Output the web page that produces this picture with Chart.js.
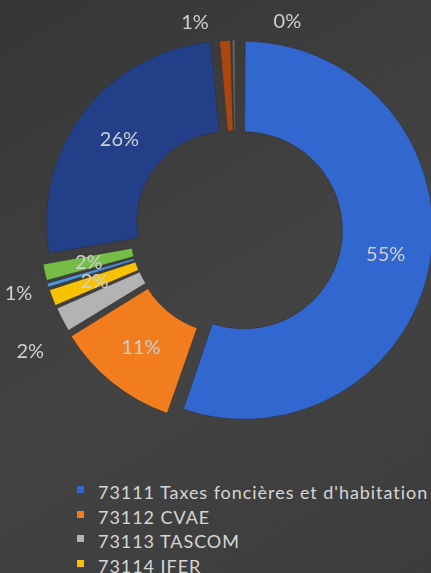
<!DOCTYPE html>
<html lang="fr">
<head>
<meta charset="UTF-8">
<title>Impôts et taxes</title>
<script src="https://cdn.jsdelivr.net/npm/chart.js"></script>
<style>
  html, body { margin: 0; padding: 0; }
  body {
    width: 431px; height: 573px; overflow: hidden; position: relative;
    background: linear-gradient(150deg, #363636 0%, #434343 55%, #3c3c3c 100%);
    font-family: Lato, "Open Sans", sans-serif;
  }
  #wrap { position: absolute; left: 0; top: 0; width: 431px; height: 470px; }
  #legend { position: absolute; left: 77px; top: 480px; margin: 0; padding: 0; list-style: none; }
  #legend li { height: 24.5px; line-height: 24.5px; font-size: 18px; letter-spacing: 0.95px; color: #d6d6d6; white-space: nowrap; }
  #legend .box { display: inline-block; width: 7px; height: 7px; margin-right: 14px; position: relative; top: -6px; }
</style>
</head>
<body>
<div id="wrap"><canvas id="donut" width="431" height="470"></canvas></div>
<ul id="legend"></ul>

<script>
// categories (legend order)
const categories = [
  "73111 Taxes foncières et d'habitation",
  "73112 CVAE",
  "73113 TASCOM",
  "73114 IFER",
  "7318 Autres impôts locaux",
  "73221 FNGIR",
  "7321 Attribution de compensation",
  "7322 Dotation de solidarité",
  "7388 Autres taxes diverses"
];
// share of the total, in %
const shares = [55.3, 10.9, 2.3, 1.6, 0.55, 1.6, 26.3, 1.05, 0.4];
const colors = ['#3267cf', '#f27d1f', '#b3b3b3', '#f7c200', '#4a95dc', '#76bd48', '#223f88', '#a9470f', '#5f5f5f'];
// explosion of each slice (Chart.js offset, drawn at 1/4)
const sliceOffsets = [32, 48, 32, 32, 32, 32, 44, 16, 16];

// legend
const legend = document.getElementById('legend');
categories.forEach((name, i) => {
  const li = document.createElement('li');
  const box = document.createElement('span');
  box.className = 'box';
  box.style.background = colors[i];
  li.appendChild(box);
  li.appendChild(document.createTextNode(name));
  legend.appendChild(li);
});

// percentage labels
const sliceLabels = {
  id: 'sliceLabels',
  afterDatasetsDraw(chart, args, opts) {
    const ctx = chart.ctx;
    const meta = chart.getDatasetMeta(0);
    const total = shares.reduce((a, b) => a + b, 0);
    ctx.save();
    ctx.font = opts.font;
    ctx.fillStyle = opts.color;
    ctx.textAlign = 'center';
    ctx.textBaseline = 'middle';
    meta.data.forEach((arc, i) => {
      const p = arc.getProps(['x', 'y', 'startAngle', 'endAngle', 'innerRadius', 'outerRadius', 'circumference'], true);
      const mid = (p.startAngle + p.endAngle) / 2;
      const shift = (arc.options.offset || 0) / 4;
      let r, dx = 0, dy = 0;
      if (opts.outside[i]) {
        r = opts.outside[i];
        if (opts.nudge[i]) { dx = opts.nudge[i][0]; dy = opts.nudge[i][1]; }
      } else {
        const fix = 1 - Math.sin(Math.min(Math.PI, p.circumference));
        r = shift + shift * fix + (p.innerRadius + p.outerRadius) / 2;
      }
      const x = p.x + Math.cos(mid) * r + dx;
      const y = p.y + Math.sin(mid) * r + dy;
      ctx.fillText(Math.round(shares[i] / total * 100) + '%', x, y);
    });
    ctx.restore();
  }
};

new Chart(document.getElementById('donut'), {
  type: 'doughnut',
  data: {
    labels: categories,
    datasets: [{
      data: shares,
      backgroundColor: colors,
      borderColor: 'rgba(50,50,50,0.6)',
      borderWidth: 1,
      offset: sliceOffsets,
      hoverOffset: 0
    }]
  },
  options: {
    responsive: false,
    animation: false,
    events: [],
    radius: 181,
    cutout: '50%',
    layout: { padding: { left: 41, right: 0, top: 0, bottom: 12 } },
    plugins: {
      legend: { display: false },
      tooltip: { enabled: false },
      sliceLabels: {
        font: '20px Lato, "Open Sans", sans-serif',
        color: '#cfcfcf',
        outside: { 2: 240, 4: 227, 7: 207, 8: 207 },
        nudge: { 2: [7, 12], 7: [-29, 0], 8: [54, 0] }
      }
    }
  },
  plugins: [sliceLabels]
});
</script>
</body>
</html>
